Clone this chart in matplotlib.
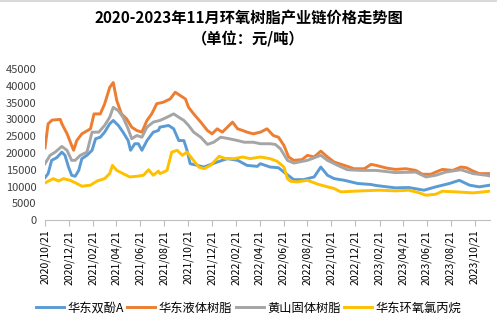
import pandas as pd
import matplotlib
matplotlib.use('Agg')
import matplotlib.pyplot as plt
import matplotlib.dates as mdates

plt.rcParams['font.family'] = ['Noto Sans CJK SC', 'DejaVu Sans']

# 华东双酚A
bpa_dates = ['2020-10-21', '2020-10-29', '2020-11-07', '2020-11-20', '2020-12-03', '2020-12-11',
             '2020-12-20', '2020-12-28', '2021-01-06', '2021-01-15', '2021-01-23', '2021-02-05',
             '2021-02-18', '2021-02-27', '2021-03-11', '2021-03-22', '2021-04-04', '2021-04-13',
             '2021-04-26', '2021-05-08', '2021-05-21', '2021-05-27', '2021-06-07', '2021-06-16',
             '2021-06-25', '2021-07-08', '2021-07-24', '2021-08-06', '2021-08-10', '2021-09-01',
             '2021-09-14', '2021-09-27', '2021-10-10', '2021-10-18', '2021-10-26', '2021-11-13',
             '2021-11-30', '2022-01-03', '2022-01-29', '2022-02-24', '2022-03-20', '2022-04-15',
             '2022-04-23', '2022-05-18', '2022-06-08', '2022-06-22', '2022-07-17', '2022-08-11',
             '2022-09-07', '2022-09-24', '2022-10-11', '2022-10-28', '2022-11-23', '2022-12-27',
             '2023-01-30', '2023-02-12', '2023-04-02', '2023-05-06', '2023-06-14', '2023-07-14',
             '2023-08-18', '2023-09-12', '2023-10-08', '2023-11-02', '2023-11-29']
bpa = [12650, 13850, 17800, 18600, 20250, 19300,
       15800, 13350, 13050, 14800, 18300, 19300,
       20800, 24250, 24700, 26200, 28700, 29700,
       28200, 26200, 23700, 20800, 22750, 22750,
       20800, 23700, 26200, 26700, 27700, 28200,
       27200, 23700, 23700, 20800, 16800, 16300,
       15800, 17300, 18300, 17800, 16300, 16000,
       16800, 15800, 15600, 14300, 12050, 12050,
       12850, 15800, 13350, 12350, 11850, 10900,
       10600, 10300, 9600, 9700, 8900, 9900,
       10900, 11850, 10400, 9900, 10400]

# 华东液体树脂
liquid_dates = ['2020-10-21', '2020-10-29', '2020-11-08', '2020-11-29', '2020-12-03', '2020-12-16',
                '2020-12-28', '2021-01-02', '2021-01-10', '2021-01-23', '2021-02-14', '2021-02-23',
                '2021-03-11', '2021-03-22', '2021-04-04', '2021-04-13', '2021-04-22', '2021-05-04',
                '2021-05-17', '2021-05-30', '2021-06-12', '2021-06-25', '2021-07-08', '2021-07-20',
                '2021-08-02', '2021-08-18', '2021-09-05', '2021-09-18', '2021-10-01', '2021-10-14',
                '2021-10-22', '2021-11-04', '2021-11-22', '2021-12-09', '2021-12-21', '2022-01-03',
                '2022-01-16', '2022-01-29', '2022-02-11', '2022-02-24', '2022-03-09', '2022-03-20',
                '2022-04-05', '2022-04-23', '2022-05-10', '2022-05-26', '2022-06-08', '2022-06-22',
                '2022-07-04', '2022-07-17', '2022-08-07', '2022-08-21', '2022-09-07', '2022-09-24',
                '2022-10-11', '2022-10-28', '2022-11-23', '2022-12-18', '2023-01-13', '2023-01-30',
                '2023-02-12', '2023-03-10', '2023-04-02', '2023-04-29', '2023-05-24', '2023-06-10',
                '2023-07-01', '2023-07-14', '2023-07-31', '2023-08-26', '2023-09-16', '2023-09-30',
                '2023-10-17', '2023-11-02', '2023-11-29']
liquid = [21500, 28700, 29800, 30000, 28700, 25800,
          22250, 20800, 23700, 25700, 27200, 31650,
          31650, 34600, 39550, 41000, 35600, 31650,
          30170, 27700, 26700, 26200, 29700, 31650,
          34700, 35100, 36100, 38100, 37100, 36100,
          33600, 31650, 29200, 26700, 25700, 27200,
          26200, 27700, 29200, 27200, 26700, 26200,
          25700, 26200, 27200, 25200, 24700, 22250,
          18800, 17800, 18000, 19300, 18800, 20550,
          18800, 17300, 16300, 15300, 15300, 16600,
          16300, 15500, 15100, 15300, 14800, 13650,
          13650, 14300, 15100, 14800, 15800, 15600,
          14600, 13850, 13850]

# 黄山固体树脂
solid_dates = ['2020-10-21', '2020-11-03', '2020-11-16', '2020-12-03', '2020-12-16', '2020-12-28',
               '2021-01-06', '2021-01-19', '2021-02-05', '2021-02-18', '2021-03-07', '2021-03-22',
               '2021-04-04', '2021-04-13', '2021-04-26', '2021-05-08', '2021-05-21', '2021-05-30',
               '2021-06-12', '2021-06-25', '2021-07-08', '2021-07-24', '2021-08-10', '2021-08-28',
               '2021-09-14', '2021-09-27', '2021-10-10', '2021-10-22', '2021-11-04', '2021-11-22',
               '2021-12-09', '2021-12-25', '2022-01-12', '2022-02-02', '2022-02-24', '2022-03-13',
               '2022-04-05', '2022-04-23', '2022-05-18', '2022-05-31', '2022-06-13', '2022-07-01',
               '2022-07-17', '2022-08-21', '2022-09-24', '2022-10-11', '2022-11-06', '2022-12-01',
               '2023-01-05', '2023-02-12', '2023-04-02', '2023-05-24', '2023-06-19', '2023-07-14',
               '2023-08-08', '2023-09-16', '2023-10-17', '2023-11-20', '2023-11-29']
solid = [16800, 19300, 20250, 21950, 20800, 17800,
         17800, 19300, 20250, 26200, 26200, 28200,
         30650, 33600, 32600, 30650, 27200, 24250,
         25200, 24700, 27700, 29200, 29700, 30650,
         31650, 30650, 29700, 28200, 26200, 24700,
         22550, 23200, 24700, 24250, 23700, 23200,
         23200, 22750, 22750, 22550, 21270, 17800,
         17000, 17800, 19300, 17800, 16300, 15000,
         14800, 14800, 14150, 14300, 12850, 13350,
         14300, 15000, 13850, 13350, 13150]

# 华东环氧氯丙烷
ech_dates = ['2020-10-21', '2020-11-11', '2020-11-25', '2020-12-07', '2020-12-24', '2021-01-10',
             '2021-01-23', '2021-02-14', '2021-03-03', '2021-03-22', '2021-04-04', '2021-04-11',
             '2021-04-22', '2021-05-08', '2021-05-25', '2021-06-12', '2021-06-29', '2021-07-12',
             '2021-07-24', '2021-08-06', '2021-08-10', '2021-08-28', '2021-09-09', '2021-09-23',
             '2021-10-06', '2021-10-18', '2021-10-31', '2021-11-17', '2021-11-30', '2021-12-17',
             '2022-01-08', '2022-01-25', '2022-02-15', '2022-03-09', '2022-03-28', '2022-04-23',
             '2022-05-18', '2022-06-05', '2022-06-22', '2022-07-01', '2022-07-09', '2022-07-25',
             '2022-08-21', '2022-09-16', '2022-10-11', '2022-10-28', '2022-11-14', '2023-01-05',
             '2023-02-21', '2023-04-02', '2023-05-06', '2023-05-31', '2023-06-19', '2023-07-14',
             '2023-07-31', '2023-09-04', '2023-10-17', '2023-11-29']
ech = [11050, 12350, 11650, 12350, 11850, 10900,
       10100, 10400, 11650, 12350, 13850, 16300,
       14800, 13850, 12850, 13050, 13350, 15000,
       13350, 14600, 13850, 14800, 20250, 20800,
       19300, 20250, 18300, 15800, 15300, 16300,
       19000, 18300, 18300, 18800, 18300, 18800,
       18300, 17500, 15800, 12350, 11550, 11350,
       11850, 10700, 9900, 9400, 8400, 8700,
       8900, 8700, 8900, 8200, 7400, 7700,
       8600, 8400, 8100, 8600]

series_names = ['华东双酚A', '华东液体树脂', '黄山固体树脂', '华东环氧氯丙烷']
colors = ['#5B9BD5', '#ED7D31', '#A5A5A5', '#FFC000']
tick_dates = pd.date_range('2020-10-01', '2023-10-01', freq='2MS') + pd.Timedelta(days=20)
y_ticks = list(range(0, 45001, 5000))

fig = plt.figure(figsize=(4.97, 3.26), dpi=100)
ax = fig.add_axes([0.0905, 0.325, 0.896, 0.463])

all_series = [(bpa_dates, bpa), (liquid_dates, liquid), (solid_dates, solid), (ech_dates, ech)]
for (d, v), name, c in zip(all_series, series_names, colors):
    ax.plot(pd.to_datetime(d), v, color=c, lw=2.1, label=name, solid_joinstyle='round')

ax.set_ylim(0, 45000)
ax.set_yticks(y_ticks)
ax.set_xlim(pd.Timestamp('2020-10-21'), pd.Timestamp('2023-11-30'))
ax.set_xticks(tick_dates)
ax.xaxis.set_major_formatter(mdates.DateFormatter('%Y/%m/%d'))
ax.tick_params(axis='x', rotation=90, labelsize=7.5, length=4, color='#BFBFBF', pad=3, labelcolor='black')
ax.tick_params(axis='y', length=0, labelsize=8, pad=6, labelcolor='#404040')
for lab in ax.get_xticklabels():
    lab.set_verticalalignment('top')

for s in ['top', 'right', 'left']:
    ax.spines[s].set_visible(False)
ax.spines['bottom'].set_color('#BFBFBF')

fig.text(0.5, 0.945, '2020-2023年11月环氧树脂产业链价格走势图', ha='center', va='center',
         fontsize=11, fontweight='bold')
fig.text(0.5, 0.88, '（单位：元/吨）', ha='center', va='center', fontsize=11, fontweight='bold')

fig.legend(loc='center', bbox_to_anchor=(0.5, 0.055), ncol=4, frameon=False, fontsize=8.8,
           handlelength=2.3, handletextpad=0.25, columnspacing=0.3)

fig.add_artist(plt.Line2D([0, 1], [0.997, 0.997], color='#D9D9D9', lw=1.5, transform=fig.transFigure))

fig.savefig('out.png', dpi=100)
